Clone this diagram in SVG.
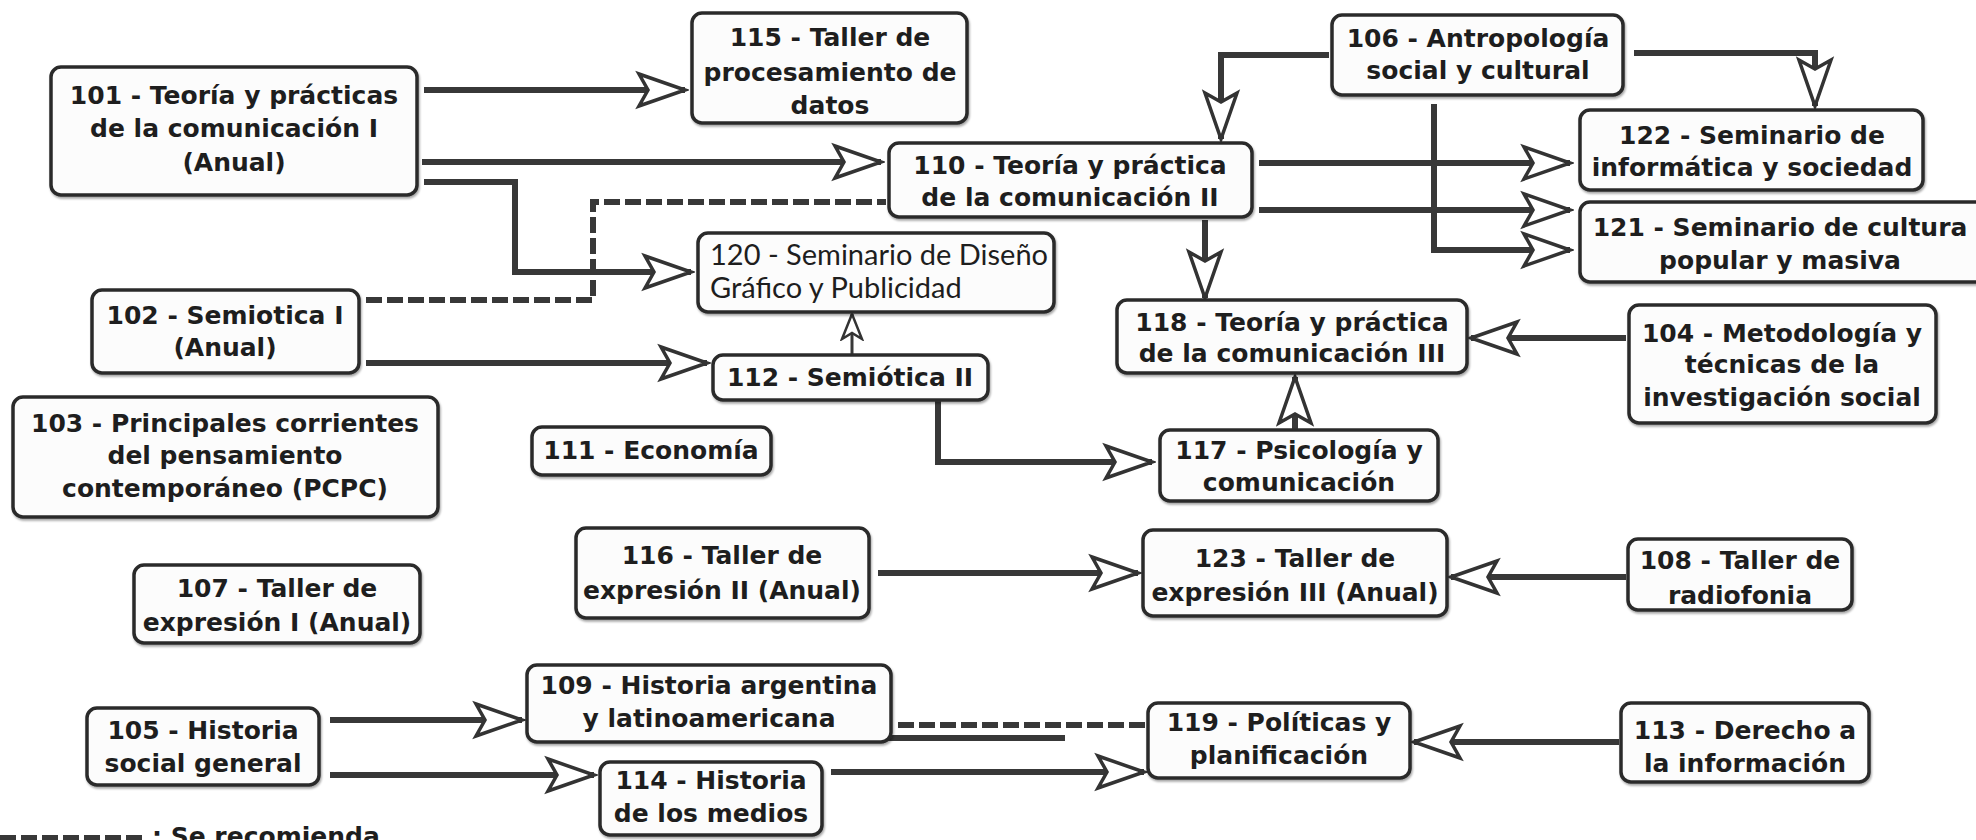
<svg xmlns="http://www.w3.org/2000/svg" width="1976" height="840" viewBox="0 0 1976 840">
<defs>
<style>
.box{fill:#fcfcfc;stroke:#2b2b2b;stroke-width:3.5;filter:url(#sh)}
.t{font-family:"DejaVu Sans","Liberation Sans",sans-serif;font-weight:bold;font-size:25px;fill:#1e1e1e;text-anchor:middle}
.tl{font-family:Lato,"Liberation Sans",sans-serif;font-size:29px;fill:#1e1e1e}
.c{fill:none;stroke:#383838;stroke-width:6;stroke-linejoin:miter}
.a{marker-end:url(#ah)}
.d{stroke-dasharray:16 5}
.thin{fill:none;stroke:#383838;stroke-width:3;marker-end:url(#ahs)}
</style>
<filter id="sh" x="-5%" y="-10%" width="110%" height="130%">
<feDropShadow dx="1" dy="2" stdDeviation="1.2" flood-color="#000" flood-opacity="0.35"/>
</filter>
<marker id="ah" markerUnits="userSpaceOnUse" viewBox="0 0 54 40" refX="50" refY="20" markerWidth="54" markerHeight="40" orient="auto">
<path d="M4,4 L50,20 L4,36 L13,20 Z" fill="#fff" stroke="#333" stroke-width="3.5"/>
</marker>
<marker id="ahs" markerUnits="userSpaceOnUse" viewBox="0 0 30 24" refX="27" refY="12" markerWidth="30" markerHeight="24" orient="auto">
<path d="M2,2 L27,12 L2,22 L8,12 Z" fill="#fff" stroke="#333" stroke-width="2.5"/>
</marker>
</defs>
<rect width="1976" height="840" fill="#fff"/>

<g id="connectors">
<path class="c a" d="M424,90 H685"/>
<path class="c a" d="M422,162 H881"/>
<path class="c a" d="M424,182 H515 V272 H691"/>
<path class="c d" d="M366,300 H593 V202 H886"/>
<path class="c a" d="M366,363 H707"/>
<path class="c a" d="M1329,55 H1221 V139"/>
<path class="c a" d="M1634,53 H1815 V106"/>
<path class="c a" d="M1434,104 V250 H1570"/>
<path class="c a" d="M1259,163 H1570"/>
<path class="c a" d="M1259,210 H1570"/>
<path class="c a" d="M1205,220 V298"/>
<path class="thin" d="M852,354 V314"/>
<path class="c a" d="M938,401 V462 H1152"/>
<path class="c a" d="M1295,430 V377"/>
<path class="c a" d="M1626,338 H1471"/>
<path class="c a" d="M878,573 H1138"/>
<path class="c a" d="M1626,577 H1451"/>
<path class="c a" d="M330,720 H522"/>
<path class="c a" d="M330,775 H594"/>
<path class="c d" d="M898,725 H1146"/>
<path class="c" d="M842,738 H1065"/>
<path class="c a" d="M831,772 H1144"/>
<path class="c a" d="M1619,742 H1414"/>
<path class="c d" d="M0,838 H147"/>
</g>

<g id="n101"><rect class="box" x="51" y="67" width="366" height="128" rx="10"/>
<text class="t" x="234" y="104">101 - Teoría y prácticas</text>
<text class="t" x="234" y="137">de la comunicación I</text>
<text class="t" x="234" y="171">(Anual)</text></g>

<g id="n115"><rect class="box" x="692" y="13" width="275" height="110" rx="10"/>
<text class="t" x="830" y="46">115 - Taller de</text>
<text class="t" x="830" y="81">procesamiento de</text>
<text class="t" x="830" y="114">datos</text></g>

<g id="n106"><rect class="box" x="1332" y="15" width="291" height="80" rx="10"/>
<text class="t" x="1478" y="47">106 - Antropología</text>
<text class="t" x="1478" y="79">social y cultural</text></g>

<g id="n110"><rect class="box" x="889" y="143" width="363" height="74" rx="10"/>
<text class="t" x="1070" y="174">110 - Teoría y práctica</text>
<text class="t" x="1070" y="206">de la comunicación II</text></g>

<g id="n122"><rect class="box" x="1580" y="110" width="343" height="80" rx="10"/>
<text class="t" x="1752" y="144">122 - Seminario de</text>
<text class="t" x="1752" y="176">informática y sociedad</text></g>

<g id="n121"><rect class="box" x="1580" y="202" width="410" height="80" rx="10"/>
<text class="t" x="1780" y="236">121 - Seminario de cultura</text>
<text class="t" x="1780" y="269">popular y masiva</text></g>

<g id="n120"><rect class="box" x="698" y="233" width="356" height="79" rx="10"/>
<text class="tl" x="710" y="265">120 - Seminario de Diseño</text>
<text class="tl" x="710" y="298">Gráfico y Publicidad</text></g>

<g id="n102"><rect class="box" x="92" y="290" width="267" height="83" rx="10"/>
<text class="t" x="225" y="324">102 - Semiotica I</text>
<text class="t" x="225" y="356">(Anual)</text></g>

<g id="n112"><rect class="box" x="713" y="355" width="275" height="45" rx="10"/>
<text class="t" x="850" y="386">112 - Semiótica II</text></g>

<g id="n118"><rect class="box" x="1117" y="300" width="350" height="73" rx="10"/>
<text class="t" x="1292" y="331">118 - Teoría y práctica</text>
<text class="t" x="1292" y="362">de la comunicación III</text></g>

<g id="n104"><rect class="box" x="1629" y="305" width="307" height="118" rx="10"/>
<text class="t" x="1782" y="342">104 - Metodología y</text>
<text class="t" x="1782" y="373">técnicas de la</text>
<text class="t" x="1782" y="406">investigación social</text></g>

<g id="n103"><rect class="box" x="13" y="397" width="425" height="120" rx="10"/>
<text class="t" x="225" y="432">103 - Principales corrientes</text>
<text class="t" x="225" y="464">del pensamiento</text>
<text class="t" x="225" y="497">contemporáneo (PCPC)</text></g>

<g id="n111"><rect class="box" x="532" y="427" width="239" height="48" rx="10"/>
<text class="t" x="651" y="459">111 - Economía</text></g>

<g id="n117"><rect class="box" x="1160" y="430" width="278" height="71" rx="10"/>
<text class="t" x="1299" y="459">117 - Psicología y</text>
<text class="t" x="1299" y="491">comunicación</text></g>

<g id="n116"><rect class="box" x="576" y="528" width="293" height="90" rx="10"/>
<text class="t" x="722" y="564">116 - Taller de</text>
<text class="t" x="722" y="599">expresión II (Anual)</text></g>

<g id="n123"><rect class="box" x="1143" y="530" width="304" height="86" rx="10"/>
<text class="t" x="1295" y="567">123 - Taller de</text>
<text class="t" x="1295" y="601">expresión III (Anual)</text></g>

<g id="n108"><rect class="box" x="1628" y="539" width="224" height="71" rx="10"/>
<text class="t" x="1740" y="569">108 - Taller de</text>
<text class="t" x="1740" y="604">radiofonia</text></g>

<g id="n107"><rect class="box" x="134" y="565" width="286" height="78" rx="10"/>
<text class="t" x="277" y="597">107 - Taller de</text>
<text class="t" x="277" y="631">expresión I (Anual)</text></g>

<g id="n109"><rect class="box" x="527" y="665" width="364" height="77" rx="10"/>
<text class="t" x="709" y="694">109 - Historia argentina</text>
<text class="t" x="709" y="727">y latinoamericana</text></g>

<g id="n105"><rect class="box" x="87" y="708" width="232" height="77" rx="10"/>
<text class="t" x="203" y="739">105 - Historia</text>
<text class="t" x="203" y="772">social general</text></g>

<g id="n119"><rect class="box" x="1148" y="703" width="262" height="75" rx="10"/>
<text class="t" x="1279" y="731">119 - Políticas y</text>
<text class="t" x="1279" y="764">planificación</text></g>

<g id="n113"><rect class="box" x="1621" y="703" width="248" height="79" rx="10"/>
<text class="t" x="1745" y="739">113 - Derecho a</text>
<text class="t" x="1745" y="772">la información</text></g>

<g id="n114"><rect class="box" x="600" y="762" width="222" height="73" rx="10"/>
<text class="t" x="711" y="789">114 - Historia</text>
<text class="t" x="711" y="822">de los medios</text></g>

<g id="legend">
<text class="t" x="152" y="845" style="text-anchor:start">: Se recomienda</text>
</g>
</svg>
